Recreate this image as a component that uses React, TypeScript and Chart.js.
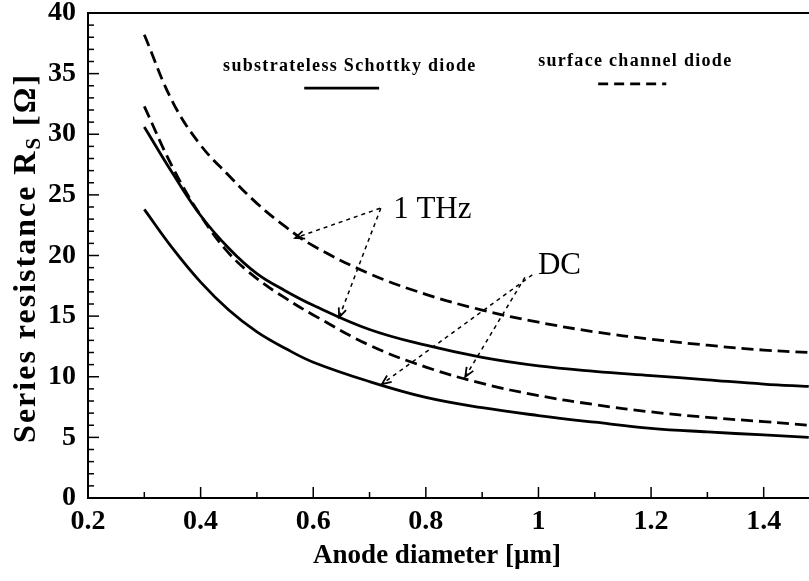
import { useEffect, useRef } from "react";
import { Chart, registerables } from "chart.js";

Chart.register(...registerables);

// ---- data ----
const anodeDiameter = [0.3, 0.35, 0.4, 0.45, 0.5, 0.55, 0.6, 0.7, 0.8, 0.9, 1.0, 1.1, 1.2, 1.3, 1.4, 1.48];
const surfaceChannel1THz = [38.2, 32.7, 29.1, 26.6, 24.3, 22.4, 20.8, 18.5, 16.8, 15.5, 14.5, 13.7, 13.1, 12.6, 12.2, 12.0];
const substrateless1THz = [30.6, 26.8, 23.3, 20.6, 18.5, 17.1, 15.9, 13.9, 12.6, 11.6, 10.9, 10.45, 10.1, 9.75, 9.4, 9.2];
const surfaceChannelDC = [32.3, 27.3, 23.3, 20.2, 18.1, 16.5, 15.1, 12.6, 10.8, 9.45, 8.45, 7.7, 7.1, 6.65, 6.3, 6.0];
const substratelessDC = [23.8, 20.6, 17.8, 15.5, 13.7, 12.35, 11.2, 9.6, 8.3, 7.45, 6.8, 6.25, 5.75, 5.45, 5.2, 5.0];

const xTickMin = 0.2;
const xTickMax = 1.5;
const yTickMin = 0;
const yTickMax = 40;

const legendLabels = ["substrateless Schottky diode", "surface channel diode"];
const xTitle = "Anode diameter [\u00b5m]";
const yTitleMain = "Series resistance R";
const yTitleSub = "S";
const yTitleRest = " [\u03a9]";

// annotation arrows (data coordinates)
const annotationTexts = ["1 THz", "DC"];
const annotationTextPos = [
  [0.742, 23.1],
  [0.999, 18.5],
];
const arrowFrom = [
  [0.719, 23.9],
  [0.72, 23.9],
  [0.989, 18.4],
  [0.976, 18.2],
];
const arrowTo = [
  [0.568, 21.45],
  [0.646, 14.9],
  [0.722, 9.4],
  [0.87, 10.0],
];

const SERIF = '"Liberation Serif", "Times New Roman", serif';

const toPoints = (ys: number[]) => anodeDiameter.map((x, i) => ({ x, y: ys[i] }));

const decorPlugin = {
  id: "decor",
  afterDraw(chart: any) {
    const { ctx, chartArea: ca, scales } = chart;
    const xs = scales.x;
    const ys = scales.y;
    ctx.save();
    ctx.strokeStyle = "#000";
    ctx.fillStyle = "#000";

    // frame
    ctx.lineWidth = 2;
    ctx.setLineDash([]);
    ctx.strokeRect(ca.left, ca.top, ca.right - ca.left, ca.bottom - ca.top);

    // inward ticks
    ctx.lineWidth = 1.5;
    for (let v = yTickMin; v <= yTickMax; v += 1) {
      const y = ys.getPixelForValue(v);
      const len = v % 5 === 0 ? 11 : 6;
      ctx.beginPath();
      ctx.moveTo(ca.left, y);
      ctx.lineTo(ca.left + len, y);
      ctx.stroke();
    }
    for (let i = Math.round(xTickMin * 10); i <= Math.round(xTickMax * 10); i++) {
      const x = xs.getPixelForValue(i / 10);
      const len = i % 2 === 0 ? 11 : 6;
      ctx.beginPath();
      ctx.moveTo(x, ca.bottom);
      ctx.lineTo(x, ca.bottom - len);
      ctx.stroke();
    }

    // x title
    ctx.font = `bold 27px ${SERIF}`;
    ctx.textAlign = "center";
    ctx.textBaseline = "middle";
    ctx.fillText(xTitle, xs.getPixelForValue(0.82), 556);

    // y title with subscript
    ctx.save();
    ctx.translate(24, ys.getPixelForValue(19.8));
    ctx.rotate(-Math.PI / 2);
    (ctx as any).letterSpacing = "2px";
    const mainFont = `bold 32px ${SERIF}`;
    const subFont = `bold 21px ${SERIF}`;
    ctx.font = mainFont;
    const w1 = ctx.measureText(yTitleMain).width;
    const w3 = ctx.measureText(yTitleRest).width;
    ctx.font = subFont;
    const w2 = ctx.measureText(yTitleSub).width;
    let sx = -(w1 + w2 + w3) / 2;
    ctx.textAlign = "left";
    ctx.textBaseline = "alphabetic";
    ctx.font = mainFont;
    ctx.fillText(yTitleMain, sx, 11);
    sx += w1;
    ctx.font = subFont;
    ctx.fillText(yTitleSub, sx, 16);
    sx += w2;
    ctx.font = mainFont;
    ctx.fillText(yTitleRest, sx, 11);
    ctx.restore();

    // legend
    ctx.save();
    (ctx as any).letterSpacing = "1.3px";
    ctx.font = `bold 18px ${SERIF}`;
    ctx.textAlign = "center";
    ctx.textBaseline = "alphabetic";
    ctx.fillText(legendLabels[0], xs.getPixelForValue(0.665), ys.getPixelForValue(35.2));
    ctx.fillText(legendLabels[1], xs.getPixelForValue(1.172), ys.getPixelForValue(35.6));
    ctx.restore();
    ctx.lineWidth = 2.8;
    ctx.beginPath();
    ctx.moveTo(xs.getPixelForValue(0.584), ys.getPixelForValue(33.8));
    ctx.lineTo(xs.getPixelForValue(0.717), ys.getPixelForValue(33.8));
    ctx.stroke();
    ctx.setLineDash([10, 6]);
    ctx.beginPath();
    ctx.moveTo(xs.getPixelForValue(1.106), ys.getPixelForValue(34.15));
    ctx.lineTo(xs.getPixelForValue(1.227), ys.getPixelForValue(34.15));
    ctx.stroke();

    // annotation arrows
    ctx.lineWidth = 1.5;
    for (let i = 0; i < arrowFrom.length; i++) {
      const x0 = xs.getPixelForValue(arrowFrom[i][0]);
      const y0 = ys.getPixelForValue(arrowFrom[i][1]);
      const x1 = xs.getPixelForValue(arrowTo[i][0]);
      const y1 = ys.getPixelForValue(arrowTo[i][1]);
      ctx.setLineDash([4, 4]);
      ctx.beginPath();
      ctx.moveTo(x0, y0);
      ctx.lineTo(x1, y1);
      ctx.stroke();
      const ang = Math.atan2(y1 - y0, x1 - x0);
      ctx.setLineDash([]);
      ctx.lineWidth = 1.8;
      ctx.beginPath();
      ctx.moveTo(x1 - 10 * Math.cos(ang - 0.4), y1 - 10 * Math.sin(ang - 0.4));
      ctx.lineTo(x1, y1);
      ctx.lineTo(x1 - 10 * Math.cos(ang + 0.4), y1 - 10 * Math.sin(ang + 0.4));
      ctx.stroke();
      ctx.lineWidth = 1.5;
    }
    ctx.font = `31px ${SERIF}`;
    ctx.textAlign = "left";
    ctx.textBaseline = "alphabetic";
    for (let i = 0; i < annotationTexts.length; i++) {
      ctx.fillText(
        annotationTexts[i],
        xs.getPixelForValue(annotationTextPos[i][0]),
        ys.getPixelForValue(annotationTextPos[i][1])
      );
    }
    ctx.restore();
  },
};

export default function App() {
  const ref = useRef<HTMLCanvasElement | null>(null);
  useEffect(() => {
    if (!ref.current) return;
    const solid = { borderColor: "#000", borderWidth: 2.8, pointRadius: 0, tension: 0.4, fill: false };
    const chart = new Chart(ref.current, {
      type: "line",
      data: {
        datasets: [
          { label: "surface channel diode 1 THz", data: toPoints(surfaceChannel1THz), ...solid, borderDash: [12, 6] },
          { label: "substrateless Schottky diode 1 THz", data: toPoints(substrateless1THz), ...solid },
          { label: "surface channel diode DC", data: toPoints(surfaceChannelDC), ...solid, borderDash: [12, 6] },
          { label: "substrateless Schottky diode DC", data: toPoints(substratelessDC), ...solid },
        ],
      },
      options: {
        animation: false,
        responsive: false,
        devicePixelRatio: 1,
        layout: { padding: { top: 13, right: 4, left: 0, bottom: 0 } },
        plugins: { legend: { display: false }, tooltip: { enabled: false } },
        scales: {
          x: {
            type: "linear",
            min: xTickMin,
            max: xTickMax,
            grid: { display: false, drawTicks: false },
            border: { display: false },
            ticks: {
              stepSize: 0.2,
              includeBounds: false,
              padding: 7,
              color: "#000",
              font: { family: SERIF, size: 28, weight: "bold" },
              maxRotation: 0,
              autoSkip: false,
              callback: (v: any) => String(Number(Number(v).toFixed(1))),
            },
            afterFit(scale: any) {
              scale.height = 83;
              scale.paddingLeft = 0;
              scale.paddingRight = 0;
            },
          },
          y: {
            type: "linear",
            min: yTickMin,
            max: yTickMax,
            grid: { display: false, drawTicks: false },
            border: { display: false },
            ticks: {
              stepSize: 5,
              padding: 12,
              color: "#000",
              font: { family: SERIF, size: 28, weight: "bold" },
            },
            afterFit(scale: any) {
              scale.width = 88;
              scale.paddingTop = 0;
              scale.paddingBottom = 0;
            },
          },
        },
      },
      plugins: [decorPlugin],
    });
    return () => chart.destroy();
  }, []);
  return (
    <div style={{ position: "absolute", left: 0, top: 0, width: 809, height: 581, overflow: "hidden", background: "#fff" }}>
      <canvas ref={ref} width={824} height={581} style={{ display: "block" }} />
    </div>
  );
}
